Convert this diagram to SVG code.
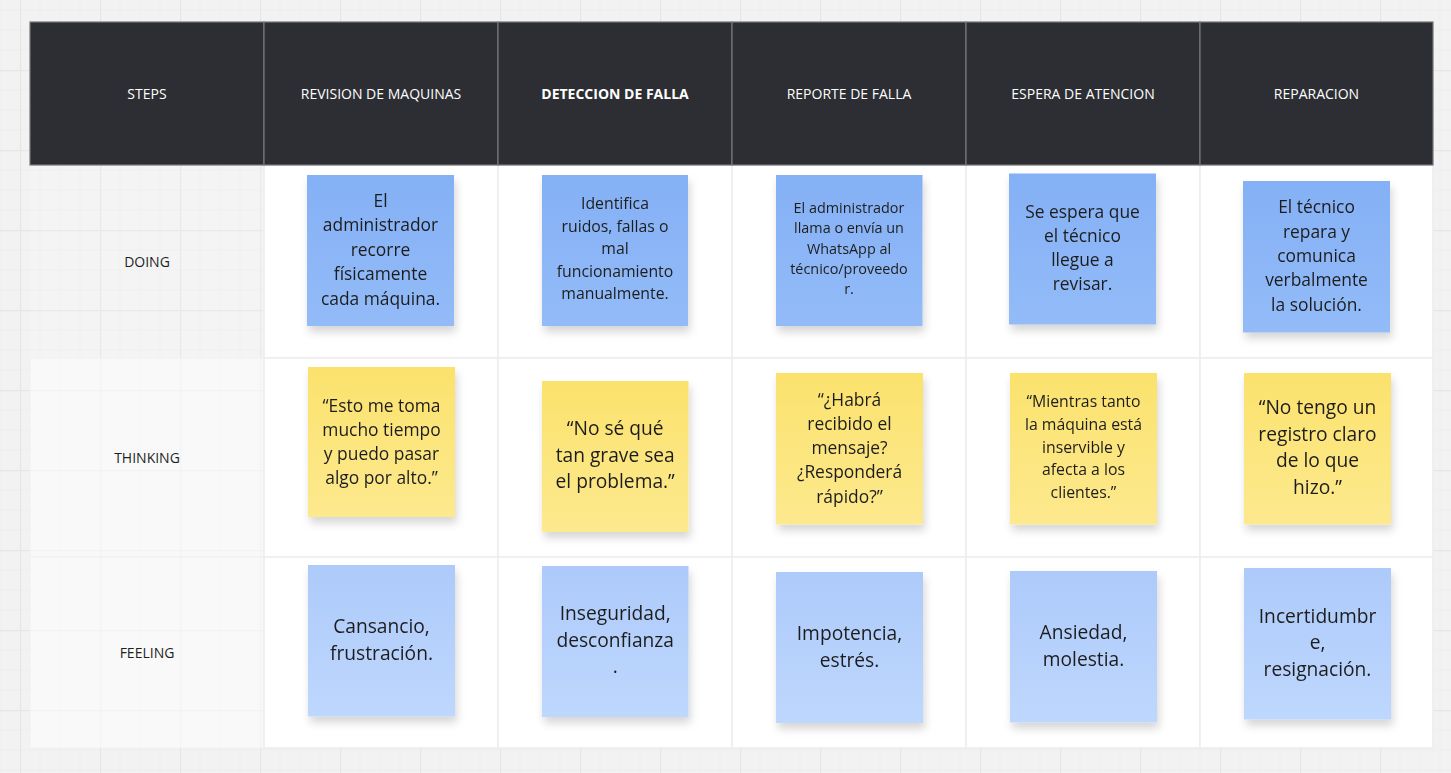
<svg xmlns="http://www.w3.org/2000/svg" width="1451" height="773" viewBox="0 0 1451 773">
<style>
.hdr{fill:#2d2e33;stroke:#76767b;stroke-width:1.2}
.cell{fill:#ffffff;stroke:#ededed;stroke-width:1.5}
.ht{font-family:"Open Sans","Noto Sans",sans-serif;font-size:14px;fill:#ffffff;text-anchor:middle}
.rl{font-family:"Open Sans","Noto Sans",sans-serif;font-size:14px;fill:#1f1f1f;text-anchor:middle}
.nt{font-family:"Open Sans","Noto Sans",sans-serif;fill:#1e1e1e;text-anchor:middle}
.doing{fill:url(#gDo)}
.think{fill:url(#gTh)}
.feel{fill:url(#gFe)}
.note{filter:url(#sh)}
</style>
<defs>
<pattern id="grid" patternUnits="userSpaceOnUse" x="20" y="-10" width="80" height="80">
<rect width="80" height="80" fill="#f2f2f2"/>
<path d="M20 0V80M40 0V80M60 0V80M0 20H80M0 40H80M0 60H80" stroke="#eeeeee" stroke-width="1" fill="none"/>
<path d="M0.5 0V80M0 0.5H80" stroke="#e6e6e6" stroke-width="1.5" fill="none"/>
</pattern>
<linearGradient id="gDo" x1="0" y1="0" x2="0" y2="1"><stop offset="0" stop-color="#84b0f5"/><stop offset="1" stop-color="#93bbf8"/></linearGradient>
<linearGradient id="gTh" x1="0" y1="0" x2="0" y2="1"><stop offset="0" stop-color="#fbe26d"/><stop offset="1" stop-color="#fde98e"/></linearGradient>
<linearGradient id="gFe" x1="0" y1="0" x2="0" y2="1"><stop offset="0" stop-color="#adcafa"/><stop offset="1" stop-color="#bed7fd"/></linearGradient>
<filter id="sh" x="-20%" y="-20%" width="150%" height="150%">
<feDropShadow dx="2" dy="6" stdDeviation="4" flood-color="#000" flood-opacity="0.16"/>
</filter>
</defs>
<rect width="1451" height="773" fill="url(#grid)"/>

<g id="table">
<rect x="30" y="165" width="234" height="193" fill="#ffffff" fill-opacity="0.15"/>
<rect x="30" y="358" width="234" height="199" fill="#ffffff" fill-opacity="0.5" stroke="#f0f0f0"/>
<rect x="30" y="557" width="234" height="191" fill="#ffffff" fill-opacity="0.5" stroke="#f0f0f0"/>
<rect class="cell" x="264" y="165" width="234" height="193"/>
<rect class="cell" x="498" y="165" width="234" height="193"/>
<rect class="cell" x="732" y="165" width="234" height="193"/>
<rect class="cell" x="966" y="165" width="234" height="193"/>
<rect class="cell" x="1200" y="165" width="233" height="193"/>
<rect class="cell" x="264" y="358" width="234" height="199"/>
<rect class="cell" x="498" y="358" width="234" height="199"/>
<rect class="cell" x="732" y="358" width="234" height="199"/>
<rect class="cell" x="966" y="358" width="234" height="199"/>
<rect class="cell" x="1200" y="358" width="233" height="199"/>
<rect class="cell" x="264" y="557" width="234" height="191"/>
<rect class="cell" x="498" y="557" width="234" height="191"/>
<rect class="cell" x="732" y="557" width="234" height="191"/>
<rect class="cell" x="966" y="557" width="234" height="191"/>
<rect class="cell" x="1200" y="557" width="233" height="191"/>
</g>

<g id="header">
<g id="h-steps"><rect class="hdr" x="30" y="22" width="234" height="143"/><text class="ht" x="147" y="99">STEPS</text></g>
<g id="h-revision"><rect class="hdr" x="264" y="22" width="234" height="143"/><text class="ht" x="381" y="99">REVISION DE MAQUINAS</text></g>
<g id="h-deteccion"><rect class="hdr" x="498" y="22" width="234" height="143"/><text class="ht" x="615" y="99" font-weight="bold">DETECCION DE FALLA</text></g>
<g id="h-reporte"><rect class="hdr" x="732" y="22" width="234" height="143"/><text class="ht" x="849" y="99">REPORTE DE FALLA</text></g>
<g id="h-espera"><rect class="hdr" x="966" y="22" width="234" height="143"/><text class="ht" x="1083" y="99">ESPERA DE ATENCION</text></g>
<g id="h-reparacion"><rect class="hdr" x="1200" y="22" width="233" height="143"/><text class="ht" x="1316.5" y="99">REPARACION</text></g>
</g>

<g id="row-labels">
<text id="l-doing" class="rl" x="147" y="267">DOING</text>
<text id="l-thinking" class="rl" x="147" y="463">THINKING</text>
<text id="l-feeling" class="rl" x="147" y="658">FEELING</text>
</g>

<g id="connectors"></g>

<g id="d1" class="note"><rect class="doing" x="307" y="175" width="147" height="151"/>
<text class="nt" font-size="17.4"><tspan x="380.5" y="207">El</tspan><tspan x="380.5" y="231.4">administrador</tspan><tspan x="380.5" y="255.8">recorre</tspan><tspan x="380.5" y="280.2">físicamente</tspan><tspan x="380.5" y="304.6">cada máquina.</tspan></text></g>
<g id="d2" class="note"><rect class="doing" x="542" y="175" width="146" height="151"/>
<text class="nt" font-size="15.8"><tspan x="615" y="209">Identifica</tspan><tspan x="615" y="231.6">ruidos, fallas o</tspan><tspan x="615" y="254.2">mal</tspan><tspan x="615" y="276.8">funcionamiento</tspan><tspan x="615" y="299.4">manualmente.</tspan></text></g>
<g id="d3" class="note"><rect class="doing" x="776" y="175" width="146.5" height="151"/>
<text class="nt" font-size="14.4"><tspan x="849" y="213.3">El administrador</tspan><tspan x="849" y="233.4">llama o envía un</tspan><tspan x="849" y="253.5">WhatsApp al</tspan><tspan x="849" y="273.6">técnico/proveedo</tspan><tspan x="849" y="293.7">r.</tspan></text></g>
<g id="d4" class="note"><rect class="doing" x="1009" y="173.5" width="147" height="151"/>
<text class="nt" font-size="17.4"><tspan x="1082.5" y="217.7">Se espera que</tspan><tspan x="1082.5" y="241.9">el técnico</tspan><tspan x="1082.5" y="266.1">llegue a</tspan><tspan x="1082.5" y="290.3">revisar.</tspan></text></g>
<g id="d5" class="note"><rect class="doing" x="1243" y="181" width="147" height="151.5"/>
<text class="nt" font-size="17.4"><tspan x="1316.5" y="213.3">El técnico</tspan><tspan x="1316.5" y="237.6">repara y</tspan><tspan x="1316.5" y="261.9">comunica</tspan><tspan x="1316.5" y="286.2">verbalmente</tspan><tspan x="1316.5" y="310.5">la solución.</tspan></text></g>

<g id="t1" class="note"><rect class="think" x="308" y="367" width="147" height="150"/>
<text class="nt" font-size="17.4"><tspan x="381.5" y="411.7">“Esto me toma</tspan><tspan x="381.5" y="435.9">mucho tiempo</tspan><tspan x="381.5" y="460.1">y puedo pasar</tspan><tspan x="381.5" y="484.3">algo por alto.”</tspan></text></g>
<g id="t2" class="note"><rect class="think" x="542" y="381" width="146.5" height="151"/>
<text class="nt" font-size="19.2"><tspan x="615.2" y="435">“No sé qué</tspan><tspan x="615.2" y="461.7">tan grave sea</tspan><tspan x="615.2" y="488.4">el problema.”</tspan></text></g>
<g id="t3" class="note"><rect class="think" x="776" y="373" width="147" height="151.5"/>
<text class="nt" font-size="17.4"><tspan x="849.5" y="405.7">“¿Habrá</tspan><tspan x="849.5" y="429.9">recibido el</tspan><tspan x="849.5" y="454.1">mensaje?</tspan><tspan x="849.5" y="478.3">¿Responderá</tspan><tspan x="849.5" y="502.5">rápido?”</tspan></text></g>
<g id="t4" class="note"><rect class="think" x="1010" y="373" width="147" height="151.5"/>
<text class="nt" font-size="15.8"><tspan x="1083.5" y="407.3">“Mientras tanto</tspan><tspan x="1083.5" y="429.9">la máquina está</tspan><tspan x="1083.5" y="452.5">inservible y</tspan><tspan x="1083.5" y="475.1">afecta a los</tspan><tspan x="1083.5" y="497.7">clientes.”</tspan></text></g>
<g id="t5" class="note"><rect class="think" x="1244" y="373" width="147" height="151.5"/>
<text class="nt" font-size="19.2"><tspan x="1317.5" y="414">“No tengo un</tspan><tspan x="1317.5" y="440.7">registro claro</tspan><tspan x="1317.5" y="467.4">de lo que</tspan><tspan x="1317.5" y="494.1">hizo.”</tspan></text></g>

<g id="f1" class="note"><rect class="feel" x="308" y="565" width="147" height="151.5"/>
<text class="nt" font-size="19.2"><tspan x="381.5" y="633.3">Cansancio,</tspan><tspan x="381.5" y="660">frustración.</tspan></text></g>
<g id="f2" class="note"><rect class="feel" x="542" y="566" width="146.5" height="151"/>
<text class="nt" font-size="19.2"><tspan x="615.2" y="620">Inseguridad,</tspan><tspan x="615.2" y="646.7">desconfianza</tspan><tspan x="615.2" y="673.4">.</tspan></text></g>
<g id="f3" class="note"><rect class="feel" x="776" y="572" width="147" height="151"/>
<text class="nt" font-size="19.2"><tspan x="849.5" y="640">Impotencia,</tspan><tspan x="849.5" y="666.7">estrés.</tspan></text></g>
<g id="f4" class="note"><rect class="feel" x="1010" y="571" width="147" height="151.5"/>
<text class="nt" font-size="19.2"><tspan x="1083.5" y="639.3">Ansiedad,</tspan><tspan x="1083.5" y="666">molestia.</tspan></text></g>
<g id="f5" class="note"><rect class="feel" x="1244" y="568" width="147" height="151.5"/>
<text class="nt" font-size="19.2"><tspan x="1317.5" y="622.7">Incertidumbr</tspan><tspan x="1317.5" y="649.4">e,</tspan><tspan x="1317.5" y="676.1">resignación.</tspan></text></g>
</svg>
